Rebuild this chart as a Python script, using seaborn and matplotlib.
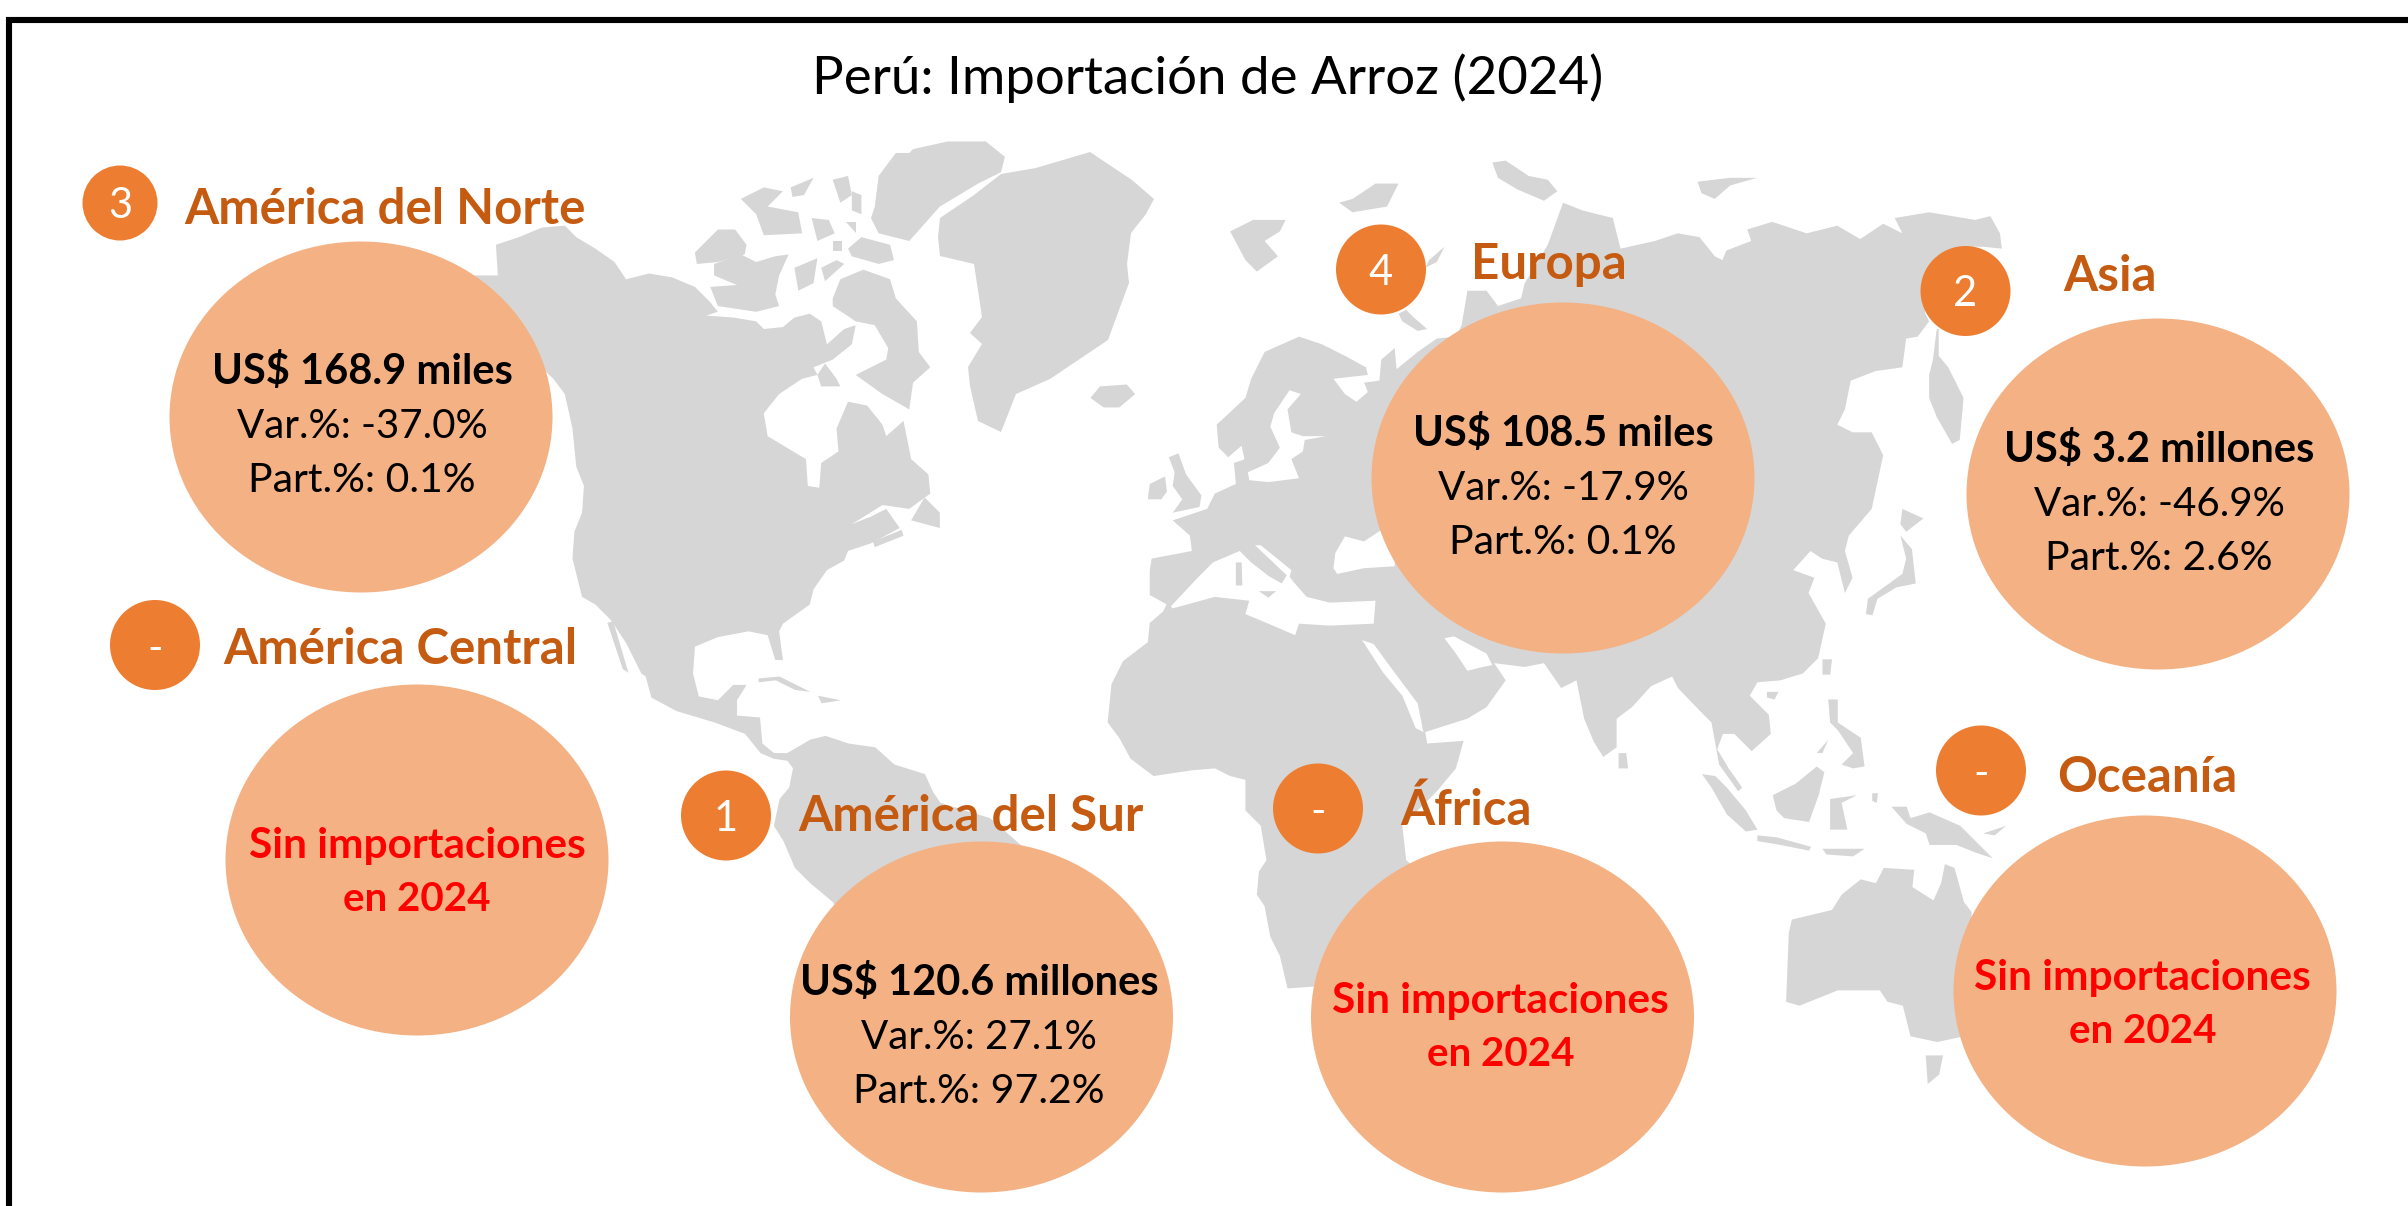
import seaborn as sns
import pandas as pd
import matplotlib.pyplot as plt
from matplotlib.path import Path
from matplotlib.transforms import Affine2D

titulo = "Perú: Importación de Arroz (2024)"
regiones = ["América del Norte", "América Central", "América del Sur", "Europa", "África", "Asia", "Oceanía"]
ranking = ["3", "-", "1", "4", "-", "2", "-"]
montos = ["168.9", None, "120.6", "108.5", None, "3.2", None]
unidades = ["miles", None, "millones", "miles", None, "millones", None]
var_pct = ["-37.0", None, "27.1", "-17.9", None, "-46.9", None]
part_pct = ["0.1", None, "97.2", "0.1", None, "2.6", None]
sin_dato = "Sin importaciones"
sin_dato2 = "en 2024"

# posiciones en pixeles de la imagen
burbuja_x = [361, 417, 981.5, 1563, 1502.5, 2158, 2145]
burbuja_y = [417, 860, 1017, 478, 1017, 494, 991]
texto_x = [362, 417, 979, 1563, 1500.5, 2159, 2142.5]
texto_y = [383.5, 858, 995, 446, 1013.5, 462, 990]
circulo_x = [120, 155, 726, 1381, 1318, 1965.5, 1981]
circulo_y = [203, 645, 815.5, 269.5, 808.5, 291, 770.5]
circulo_w = [75, 90, 90, 90, 90, 90, 90]
rotulo_x = [385, 400, 971, 1549, 1466, 2110.5, 2147]
rotulo_y = [224, 664, 831, 279, 825, 291, 791.5]


def z(ox, oy, pts):
    return [(ox + x / 2.613, oy + y / 2.613) for x, y in pts]


def A(pts):
    return z(450, 130, pts)


def B(pts):
    return z(550, 600, pts)


def C(pts):
    return z(1100, 130, pts)


def D(pts):
    return z(1600, 130, pts)


def E(pts):
    return z(1100, 600, pts)


def F(pts):
    return z(1700, 600, pts)


america = A([(60, 380), (125, 380), (120, 300), (180, 280), (240, 255), (300, 250), (330, 280), (380, 310), (430, 345),
             (460, 390), (520, 375), (580, 385), (640, 410), (680, 450), (700, 475), (670, 485), (740, 490), (800, 500),
             (820, 520), (870, 515), (900, 490), (940, 480), (970, 500), (985, 560), (1030, 520), (1060, 510),
             (1050, 560), (1000, 600), (950, 620), (960, 640), (920, 650), (860, 690), (820, 740), (830, 800),
             (880, 830), (930, 860), (935, 930), (965, 935), (970, 870), (1015, 840), (1010, 780), (1040, 710),
             (1090, 720), (1130, 770), (1140, 800), (1185, 760), (1205, 860), (1250, 900), (1255, 950), (1200, 990),
             (1130, 980), (1050, 1030), (1100, 1010), (1140, 990), (1175, 1040), (1100, 1080), (1040, 1100),
             (1030, 1125), (985, 1150), (950, 1200), (940, 1240), (870, 1290), (860, 1310), (870, 1385), (850, 1385),
             (830, 1320), (780, 1310), (700, 1325), (640, 1350), (635, 1420), (650, 1480), (700, 1490), (740, 1450),
             (775, 1450), (750, 1490), (750, 1530), (810, 1535)]) + \
    B([(555, 375), (585, 400), (620, 400), (680, 365), (720, 355), (780, 375), (850, 385), (900, 430), (980, 455),
       (1000, 500), (1020, 530), (1150, 570), (1230, 640), (1200, 900), (800, 900), (740, 790), (680, 740), (640, 700),
       (610, 630), (585, 590), (600, 520), (625, 490), (635, 440), (620, 420), (585, 415), (550, 400), (510, 350),
       (430, 320), (330, 290), (265, 255), (250, 200)]) + \
    A([(500, 1420), (460, 1340), (420, 1280), (380, 1240), (345, 1220), (320, 1120), (325, 1050), (345, 1000),
       (350, 930), (330, 880), (320, 780), (300, 690), (270, 650), (0, 400)])

eurasia_africa = C([(135, 1120), (240, 1100), (235, 1060), (190, 1020), (280, 990), (300, 950), (355, 925), (350, 870),
                    (380, 860), (390, 915), (440, 920), (520, 910), (500, 860), (530, 840), (535, 810), (590, 800),
                    (530, 800), (500, 790), (490, 730), (525, 690), (495, 680), (455, 740), (445, 775), (470, 830),
                    (440, 870), (385, 895), (370, 825), (335, 855), (310, 830), (305, 770), (380, 700), (395, 650),
                    (430, 580), (520, 540), (580, 560), (640, 590), (695, 620), (700, 640), (610, 650), (640, 690),
                    (670, 710), (700, 685), (690, 660), (730, 655), (735, 600), (770, 570), (775, 625), (830, 580),
                    (880, 545), (930, 540), (945, 510), (960, 420), (1010, 420), (1040, 460), (1100, 440), (1110, 400),
                    (1170, 300), (1210, 190), (1260, 210), (1340, 230), (1360, 310), (1450, 290), (1510, 270)]) + \
    D([(260, 280), (300, 330), (320, 340), (330, 315), (395, 290), (385, 260), (450, 240), (540, 270), (620, 250),
       (680, 285), (740, 245), (790, 270), (770, 230), (860, 215), (980, 235), (1020, 225), (1045, 270), (1050, 310),
       (1000, 305), (950, 305), (880, 330), (840, 400), (850, 480), (860, 500), (830, 540), (800, 545), (790, 620),
       (720, 630), (655, 655), (640, 730), (620, 770), (660, 790), (710, 790), (740, 850), (710, 990), (650, 1060),
       (640, 1100), (660, 1170), (640, 1210), (620, 1130), (580, 1120), (550, 1100), (505, 1150), (560, 1170),
       (545, 1210), (590, 1290), (570, 1380), (530, 1420)]) + \
    F([(210, 210), (150, 215), (130, 250), (180, 300), (185, 350), (135, 395), (90, 350), (60, 350), (45, 390),
       (75, 440), (110, 490), (100, 500), (50, 430), (30, 320), (0, 290)]) + \
    E([(1510, 230), (1495, 200), (1440, 225), (1390, 280), (1350, 310), (1350, 385), (1315, 410), (1290, 370),
       (1265, 310), (1245, 210), (1205, 230), (1160, 165), (1110, 175), (1030, 165), (1060, 210), (1010, 280),
       (960, 310), (850, 345), (855, 375), (950, 368), (930, 440), (880, 500), (790, 590), (800, 680), (850, 720),
       (700, 1000), (560, 1010), (490, 1015), (470, 930), (445, 880), (430, 800), (410, 770), (415, 710), (435, 680),
       (420, 590), (380, 550), (380, 470), (340, 460), (300, 440), (240, 445), (140, 460), (80, 415), (50, 360),
       (20, 320), (30, 220), (60, 160), (125, 110), (130, 60), (165, 30), (180, 0)]) + \
    C([(175, 1240), (130, 1215), (130, 1150)])

groenlandia = [(940, 218), (974, 195), (1001, 174), (1036, 168), (1090, 152), (1132, 180), (1154, 199), (1146, 214),
               (1131, 233), (1127, 264), (1129, 283), (1119, 310), (1108, 340), (1050, 379), (1016, 394), (1001, 432),
               (978, 421), (970, 386), (968, 367), (982, 344), (970, 333), (982, 317), (974, 264), (940, 256),
               (938, 237)]

islas = [
    A([(640, 320), (700, 260), (745, 260), (775, 300), (770, 325), (700, 345), (645, 350)]),
    A([(690, 350), (760, 325), (800, 345), (850, 330), (885, 325), (860, 380), (850, 430), (860, 460), (800, 475),
       (700, 460), (680, 410), (750, 405), (690, 380)]),
    A([(1000, 440), (1020, 390), (1080, 365), (1150, 390), (1165, 440), (1220, 500), (1225, 580), (1255, 620),
       (1210, 660), (1200, 730), (1130, 690), (1060, 640), (1140, 600), (1145, 570), (1110, 510), (1060, 500),
       (1000, 460)]),
    A([(960, 640), (980, 610), (1010, 650), (1020, 670), (970, 670)]),
    A([(760, 180), (820, 150), (870, 160), (830, 200), (910, 215), (920, 270), (820, 275), (800, 220)]),
    A([(890, 150), (950, 125), (925, 170), (895, 175)]),
    A([(1110, 200), (1120, 120), (1165, 60), (1200, 60), (1210, 50), (1300, 30), (1400, 30), (1450, 70), (1440, 110),
       (1380, 140), (1280, 200), (1200, 290), (1120, 270), (1100, 230)]),
    A([(1000, 130), (1040, 120), (1050, 170), (1020, 190)]),
    A([(1050, 160), (1075, 170), (1075, 220), (1050, 210)]),
    A([(945, 230), (990, 235), (1005, 270), (960, 290)]),
    A([(1000, 290), (1025, 290), (1025, 315), (1000, 315)]),
    A([(1040, 310), (1075, 280), (1150, 300), (1160, 340), (1120, 350), (1050, 330)]),
    A([(1035, 240), (1060, 240), (1060, 270)]),
    A([(900, 360), (960, 335), (950, 400), (910, 420)]),
    A([(970, 360), (1010, 340), (1030, 350), (980, 395)]),
    A([(1205, 1020), (1240, 960), (1280, 1000), (1280, 1040)]),
    A([(1105, 1075), (1180, 1045), (1185, 1060), (1110, 1090)]),
    B([(545, 205), (600, 200), (680, 240), (640, 235), (590, 210), (545, 215)]),
    B([(700, 250), (760, 262), (710, 270)]),
    C([(-25, 700), (0, 670), (70, 665), (92, 690), (50, 725), (10, 725)]),
    C([(340, 265), (400, 235), (485, 235), (470, 265), (430, 290), (465, 330), (410, 370), (380, 340)]),
    C([(625, 190), (660, 180), (720, 140), (780, 140), (750, 200), (660, 215)]),
    C([(1025, 85), (1060, 80), (1120, 120), (1170, 130), (1195, 160), (1160, 185), (1090, 155), (1040, 125)]),
    C([(780, 480), (800, 470), (820, 490), (855, 520), (830, 525), (790, 500)]),
    C([(860, 340), (900, 305), (880, 345), (850, 360)]),
    C([(125, 965), (130, 925), (170, 905), (175, 945), (160, 965)]),
    C([(180, 855), (205, 845), (225, 900), (265, 955), (260, 985), (190, 1000), (215, 965), (190, 930), (195, 895)]),
    D([(255, 135), (340, 125), (410, 125), (340, 145), (300, 180), (265, 165)]),
    D([(880, 520), (870, 600), (860, 640), (860, 700), (880, 750), (920, 820), (940, 810), (950, 700), (910, 620),
       (885, 590), (885, 520)]),
    D([(790, 990), (845, 1015), (800, 1050), (785, 1030)]),
    D([(785, 1060), (815, 1095), (825, 1185), (775, 1195), (725, 1225), (712, 1268), (695, 1265), (700, 1225),
       (790, 1160), (800, 1120)]),
    F([(320, 155), (345, 155), (340, 195), (320, 195)]),
    F([(175, 240), (205, 240), (195, 260), (175, 255)]),
    F([(335, 260), (360, 260), (360, 320), (420, 360), (430, 435), (400, 440), (370, 430), (400, 400), (360, 340),
       (340, 320)]),
    F([(305, 400), (335, 365), (320, 400)]),
    F([(5, 455), (40, 460), (70, 490), (120, 550), (150, 600), (120, 605), (70, 560), (30, 490)]),
    F([(150, 615), (200, 620), (290, 645), (285, 655), (210, 640), (150, 630)]),
    F([(320, 650), (430, 650), (400, 670), (330, 665)]),
    F([(190, 510), (250, 480), (305, 435), (325, 450), (310, 510), (285, 580), (220, 570), (200, 550)]),
    F([(340, 520), (410, 510), (370, 530), (385, 600), (340, 600)]),
    F([(450, 505), (465, 505), (462, 530), (450, 525)]),
    F([(500, 540), (540, 540), (550, 570), (600, 555), (680, 590), (720, 630), (765, 675), (720, 660), (670, 640),
       (600, 640), (590, 610), (540, 585)]),
    F([(740, 610), (800, 590), (770, 615)]),
    F([(225, 1050), (232, 870), (240, 835), (345, 810), (370, 770), (420, 730), (460, 740), (480, 700), (560, 705),
       (555, 750), (610, 785), (630, 740), (640, 690), (665, 700), (690, 790), (710, 815), (700, 1000), (690, 1140),
       (620, 1155), (550, 1140), (530, 1060), (490, 1050), (470, 1020), (360, 1020), (260, 1060)]),
    F([(590, 1190), (635, 1190), (625, 1240), (595, 1265)]),
    E([(1355, 400), (1375, 400), (1380, 440), (1355, 440)]),
]

agua = [
    C([(185, 1245), (255, 1170), (295, 1130), (365, 1100), (395, 1130), (440, 1165), (475, 1185), (490, 1160),
       (505, 1180), (540, 1220), (600, 1235), (720, 1230), (715, 1290), (600, 1295), (520, 1290), (510, 1320),
       (440, 1290), (380, 1265), (390, 1230), (300, 1220), (190, 1250)]),
    C([(405, 1085), (420, 1085), (500, 1150), (495, 1170)]),
    C([(610, 1145), (615, 1105), (640, 1062), (690, 1075), (735, 1045), (770, 1100), (770, 1140), (690, 1145),
       (620, 1160)]),
    E([(685, 105), (715, 115), (770, 190), (830, 270), (845, 345), (825, 335), (790, 250), (740, 190)]),
    E([(900, 100), (925, 95), (1010, 140), (1025, 170), (1000, 175), (960, 185), (930, 140)]),
    A([(1085, 570), (1120, 555), (1140, 570), (1105, 585)]),
]

# islas dentro de los mares
islas_mar = [
    C([(415, 1205), (460, 1205), (440, 1222)]),
    C([(355, 1130), (370, 1130), (372, 1190), (355, 1190)]),
    B([(150, 60), (165, 55), (205, 190), (190, 180)]),
]

df = pd.DataFrame({"region": regiones, "bx": burbuja_x, "by": burbuja_y, "cx": circulo_x, "cy": circulo_y})

sns.set_theme(style="white")
plt.rcParams["font.family"] = ["Lato", "DejaVu Sans"]

fig, ax = plt.subplots(figsize=(24.08, 12.06), dpi=100)
fig.subplots_adjust(left=0, right=1, top=1, bottom=0)

gris = "#d6d6d6"
for forma in [america, eurasia_africa, groenlandia] + islas:
    ax.fill(*zip(*forma), color=gris, lw=0, zorder=1)
for forma in agua:
    ax.fill(*zip(*forma), color="white", lw=0, zorder=1.1)
for forma in islas_mar:
    ax.fill(*zip(*forma), color=gris, lw=0, zorder=1.2)

ovalo = Path.unit_circle().transformed(Affine2D().scale(1, 351 / 383))
sns.scatterplot(data=df, x="bx", y="by", ax=ax, marker=ovalo, s=(383 * 0.72) ** 2, color="#f4b183",
                linewidth=0, edgecolor="none", zorder=2)
sns.scatterplot(data=df, x="cx", y="cy", ax=ax, marker="o", s=[(w * 0.72) ** 2 for w in circulo_w], color="#ed7d31",
                linewidth=0, edgecolor="none", zorder=2)

ax.text(1208, 94, titulo, fontsize=38, color="black", ha="center", va="baseline", zorder=3)

for i, reg in enumerate(regiones):
    ax.text(rotulo_x[i], rotulo_y[i], reg, fontsize=35.5, fontweight="bold", color="#c55a11",
            ha="center", va="baseline", zorder=3)
    ax.text(circulo_x[i], circulo_y[i] + 15.5, ranking[i], fontsize=30, color="white",
            ha="center", va="baseline", zorder=3)
    if montos[i] is None:
        ax.text(texto_x[i], texto_y[i], sin_dato, fontsize=30.5, fontweight="bold", color="#ff0000",
                ha="center", va="baseline", zorder=3)
        ax.text(texto_x[i], texto_y[i] + 53, sin_dato2, fontsize=29, fontweight="bold", color="#ff0000",
                ha="center", va="baseline", zorder=3)
    else:
        ax.text(texto_x[i], texto_y[i], f"US$ {montos[i]} {unidades[i]}", fontsize=30, fontweight="bold",
                color="black", ha="center", va="baseline", zorder=3)
        ax.text(texto_x[i], texto_y[i] + 54, f"Var.%: {var_pct[i]}%", fontsize=29, color="black",
                ha="center", va="baseline", zorder=3)
        ax.text(texto_x[i], texto_y[i] + 108, f"Part.%: {part_pct[i]}%", fontsize=29.5, color="black",
                ha="center", va="baseline", zorder=3)

# marco: solo se ve arriba y a la izquierda
ax.plot([9, 9, 2430], [1230, 20, 20], color="black", lw=4.4, solid_joinstyle="miter", zorder=4)

ax.set_xlim(0, 2408)
ax.set_ylim(1206, 0)
ax.axis("off")
fig.savefig("out.png", dpi=100)
